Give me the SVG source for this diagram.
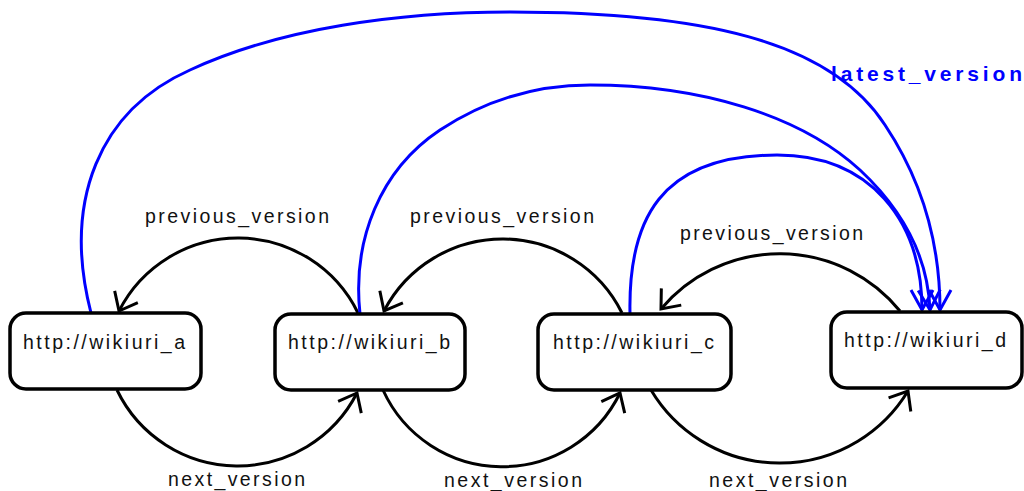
<svg xmlns="http://www.w3.org/2000/svg" width="1024" height="491" viewBox="0 0 1024 491">
<style>
.node rect{fill:#fff;stroke:#000;stroke-width:3.5}
.node text,.lbl{font-family:"Liberation Sans",Arial,sans-serif;font-size:19.5px;fill:#111}
.blk{fill:none;stroke:#000;stroke-width:3}
.blu{fill:none;stroke:#0000ff;stroke-width:3}
.bl{font-family:"Liberation Sans",Arial,sans-serif;font-size:21px;font-weight:bold;fill:#0000ff}
</style>
<defs>
<marker id="ak" markerUnits="userSpaceOnUse" markerWidth="40" markerHeight="40" refX="0" refY="0" viewBox="-20 -20 40 40" orient="auto" overflow="visible">
<path d="M-16,-13 L0,0 L-16,13" fill="none" stroke="#000" stroke-width="3"/>
</marker>
<marker id="ab" markerUnits="userSpaceOnUse" markerWidth="40" markerHeight="40" refX="0" refY="0" viewBox="-20 -20 40 40" orient="auto" overflow="visible">
<path d="M-20,-11 L0,0 L-20,11" fill="none" stroke="#0000ff" stroke-width="3"/>
</marker>
</defs>
<g id="connectors">
<path class="blk" d="M358,313 A133.5,133.5 0 0 0 119,311" marker-end="url(#ak)"/>
<path class="blk" d="M622,313 A133.5,133.5 0 0 0 384,311" marker-end="url(#ak)"/>
<path class="blk" d="M900,311 A155,155 0 0 0 661,309" marker-end="url(#ak)"/>
<path class="blk" d="M117,390 A134,134 0 0 0 357,393" marker-end="url(#ak)"/>
<path class="blk" d="M383,390 A131,131 0 0 0 620,393" marker-end="url(#ak)"/>
<path class="blk" d="M651,390 A150,150 0 0 0 908,391" marker-end="url(#ak)"/>
<path class="blu" d="M91,313 C62,200 100,110 190,70 C280,28 400,12 510,12 C700,12 830,40 885,125 C925,185 940,250 940,310" marker-end="url(#ab)"/>
<path class="blu" d="M360,314 C352,240 380,170 440,130 C490,97 540,85 590,85 C700,85 800,115 860,170 C905,212 928,260 930,310" marker-end="url(#ab)"/>
<path class="blu" d="M630,314 C628,220 660,155 777,155 C870,155 922,220 922,310" marker-end="url(#ab)"/>
<text class="lbl" x="145" y="223" textLength="184" lengthAdjust="spacing">previous_version</text>
<text class="lbl" x="410" y="223" textLength="184" lengthAdjust="spacing">previous_version</text>
<text class="lbl" x="680" y="240" textLength="183" lengthAdjust="spacing">previous_version</text>
<text class="lbl" x="168" y="486" textLength="137" lengthAdjust="spacing">next_version</text>
<text class="lbl" x="444" y="487" textLength="138" lengthAdjust="spacing">next_version</text>
<text class="lbl" x="709" y="487" textLength="138" lengthAdjust="spacing">next_version</text>
<text class="bl" x="831" y="81" textLength="191" lengthAdjust="spacing">latest_version</text>
</g>
<g id="node_a" class="node"><rect x="10" y="313" width="191" height="76" rx="16"/><text x="23" y="349" textLength="162" lengthAdjust="spacing">http://wikiuri_a</text></g>
<g id="node_b" class="node"><rect x="275" y="314" width="190" height="76" rx="16"/><text x="288" y="349" textLength="162" lengthAdjust="spacing">http://wikiuri_b</text></g>
<g id="node_c" class="node"><rect x="538" y="314" width="193" height="76" rx="16"/><text x="553" y="349" textLength="161" lengthAdjust="spacing">http://wikiuri_c</text></g>
<g id="node_d" class="node"><rect x="831" y="312" width="191" height="76" rx="16"/><text x="844" y="347" textLength="162" lengthAdjust="spacing">http://wikiuri_d</text></g>
</svg>
